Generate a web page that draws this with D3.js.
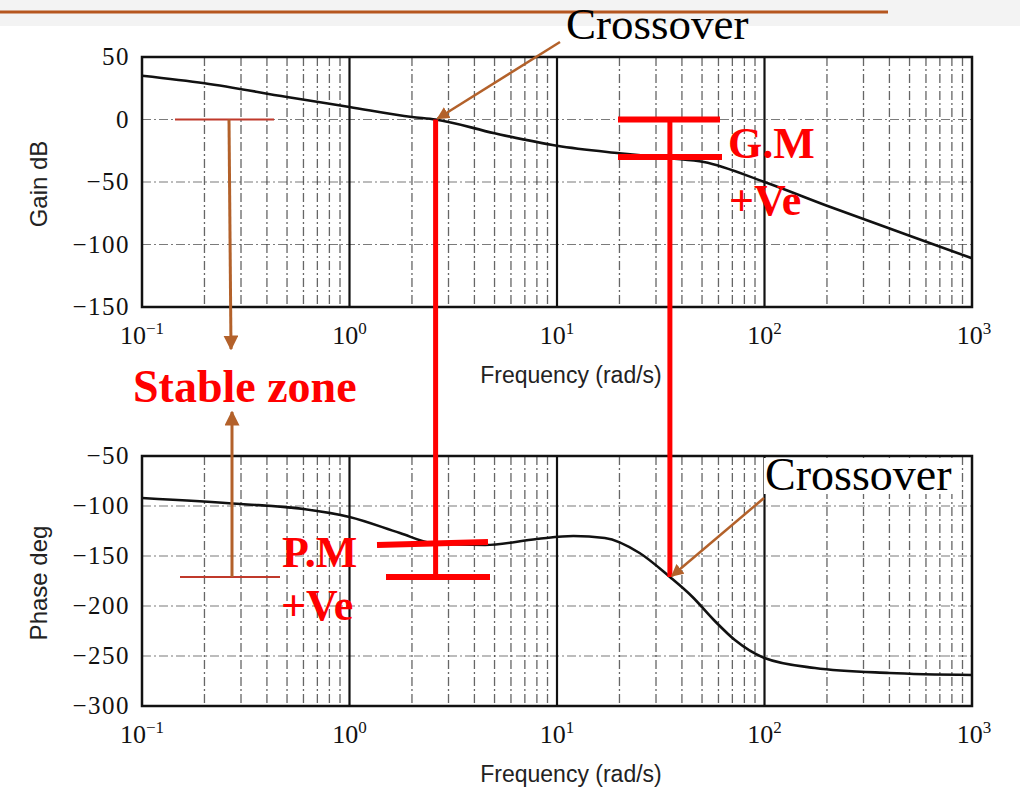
<!DOCTYPE html>
<html>
<head>
<meta charset="utf-8">
<script src="https://cdn.jsdelivr.net/npm/d3@7"></script>
<style>
  body { margin: 0; background: #fff; }
  svg { display: block; }
</style>
</head>
<body>
<svg id="chart" width="1020" height="788"></svg>
<script>
// Gain curve (rad/s, dB)
const gainFreq = [0.1, 0.2, 0.5, 1, 2, 2.6, 5, 10, 20, 35, 51, 100, 200, 500, 1000];
const gainDb = [35, 29, 18, 10, 2, 0, -11, -21, -27, -31, -34, -50, -69, -93, -111];

// Phase curve (rad/s, deg)
const phaseFreq = [0.1, 0.3, 0.6, 1, 1.75, 2.5, 4.5, 8, 12, 17, 25, 35, 45, 57, 72, 100, 175, 400, 1000];
const phaseDeg = [-92, -98, -103, -111, -127, -137, -139, -133, -130, -132, -147, -171, -191, -214, -234, -252, -262, -267, -269];

const gainTicks = [50, 0, -50, -100, -150];
const phaseTicks = [-50, -100, -150, -200, -250, -300];
const decadeExps = [-1, 0, 1, 2, 3];

// annotation points
const gainCrossFreq = 2.6;   // gain crossover
const phaseCrossFreq = 35;   // phase crossover
const pmTop = -137, pmBottom = -171;   // phase margin bars
const gmTop = 0, gmBottom = -30;       // gain margin bars

const svg = d3.select('#chart');
const brown = '#b3612a';
const darkRed = '#c0392b';
const red = '#ff0000';

svg.append('defs').append('marker')
  .attr('id', 'arrow')
  .attr('viewBox', '0 0 10 10')
  .attr('refX', 9).attr('refY', 5)
  .attr('markerWidth', 5).attr('markerHeight', 5)
  .attr('orient', 'auto-start-reverse')
  .append('path')
  .attr('d', 'M0,0 L10,5 L0,10 z')
  .attr('fill', brown);

// slide header band + rule
svg.append('rect').attr('x', 0).attr('y', 0).attr('width', 1020).attr('height', 26).attr('fill', '#f3f3f3');
svg.append('line').attr('x1', 0).attr('x2', 888).attr('y1', 12).attr('y2', 12)
  .attr('stroke', '#b5561f').attr('stroke-width', 3);

const x = d3.scaleLog().domain([0.1, 1000]).range([142, 972]);
const yGain = d3.scaleLinear().domain([-150, 50]).range([307, 57]);
const yPhase = d3.scaleLinear().domain([-300, -50]).range([706, 456]);

const drawPanel = (y, ticks, freqs, vals, title, labelY) => {
  const g = svg.append('g');
  const [y0, y1] = y.range();
  const [x0, x1] = x.range();

  // minor vertical grid (2..9 in each decade)
  const minors = [];
  for (let e = -1; e < 3; e += 1) {
    for (let k = 2; k <= 9; k += 1) minors.push(k * 10 ** e);
  }
  g.selectAll('.vminor').data(minors).join('line')
    .attr('x1', d => x(d)).attr('x2', d => x(d))
    .attr('y1', y1).attr('y2', y0)
    .attr('stroke', '#333').attr('stroke-width', 1.3)
    .attr('stroke-dasharray', '9,3,2,3').attr('opacity', 0.75);

  // horizontal grid
  g.selectAll('.hgrid').data(ticks).join('line')
    .attr('x1', x0).attr('x2', x1)
    .attr('y1', d => y(d)).attr('y2', d => y(d))
    .attr('stroke', '#444').attr('stroke-width', 1.2)
    .attr('stroke-dasharray', '9,3,2,3').attr('opacity', 0.7);

  // decade lines
  g.selectAll('.vmajor').data(decadeExps.slice(1, -1)).join('line')
    .attr('x1', d => x(10 ** d)).attr('x2', d => x(10 ** d))
    .attr('y1', y1).attr('y2', y0)
    .attr('stroke', '#111').attr('stroke-width', 2.2);

  // frame
  g.append('rect').attr('x', x0).attr('y', y1).attr('width', x1 - x0).attr('height', y0 - y1)
    .attr('fill', 'none').attr('stroke', '#111').attr('stroke-width', 2.5);

  // y tick labels
  g.selectAll('.ylab').data(ticks).join('text')
    .attr('x', 130).attr('y', d => y(d) + 8)
    .attr('text-anchor', 'end')
    .attr('font-family', 'Liberation Serif, serif').attr('font-size', 25)
    .attr('letter-spacing', 1.5)
    .attr('fill', '#111')
    .text(d => d3.format('')(d).replace('-', '\u2212'));

  // x tick labels 10^n
  const xl = g.selectAll('.xlab').data(decadeExps).join('text')
    .attr('x', d => x(10 ** d) + (d === 3 ? 2 : 0)).attr('y', labelY)
    .attr('text-anchor', 'middle')
    .attr('font-family', 'Liberation Serif, serif').attr('font-size', 26)
    .attr('fill', '#111');
  xl.append('tspan').text('10');
  xl.append('tspan').attr('dy', -10).attr('font-size', 17)
    .text(d => String(d).replace('-', '\u2212'));

  g.append('text')
    .attr('x', 571).attr('y', labelY + 39)
    .attr('text-anchor', 'middle')
    .attr('font-family', 'Liberation Sans, sans-serif').attr('font-size', 23)
    .attr('fill', '#222')
    .text('Frequency (rad/s)');

  g.append('text')
    .attr('transform', `translate(47,${(y0 + y1) / 2 + 2}) rotate(-90)`)
    .attr('text-anchor', 'middle')
    .attr('font-family', 'Liberation Sans, sans-serif').attr('font-size', 24)
    .attr('fill', '#222')
    .text(title);

  const line = d3.line().x(d => x(d[0])).y(d => y(d[1])).curve(d3.curveMonotoneX);
  g.append('path')
    .datum(freqs.map((f, i) => [f, vals[i]]))
    .attr('d', line)
    .attr('fill', 'none').attr('stroke', '#111').attr('stroke-width', 2.6);
};

drawPanel(yGain, gainTicks, gainFreq, gainDb, 'Gain dB', 344);
drawPanel(yPhase, phaseTicks, phaseFreq, phaseDeg, 'Phase deg', 743);

// ---- annotations ----
const ann = svg.append('g');
const xg = x(gainCrossFreq);
const xp = x(phaseCrossFreq);

// stable zone marks
ann.append('line').attr('x1', 175).attr('x2', 274).attr('y1', yGain(0)).attr('y2', yGain(0))
  .attr('stroke', darkRed).attr('stroke-width', 2);
ann.append('line').attr('x1', 229).attr('x2', 231).attr('y1', yGain(0)).attr('y2', 349)
  .attr('stroke', brown).attr('stroke-width', 3).attr('marker-end', 'url(#arrow)');
ann.append('line').attr('x1', 180).attr('x2', 280).attr('y1', yPhase(pmBottom)).attr('y2', yPhase(pmBottom))
  .attr('stroke', darkRed).attr('stroke-width', 2);
ann.append('line').attr('x1', 232).attr('x2', 232).attr('y1', yPhase(pmBottom)).attr('y2', 412)
  .attr('stroke', brown).attr('stroke-width', 3).attr('marker-end', 'url(#arrow)');
ann.append('text').attr('x', 133).attr('y', 402)
  .attr('font-family', 'Liberation Serif, serif').attr('font-weight', 'bold').attr('font-size', 46)
  .attr('fill', red).text('Stable zone');

// phase margin
ann.append('line').attr('x1', xg).attr('x2', xg).attr('y1', yGain(0)).attr('y2', yPhase(pmBottom))
  .attr('stroke', red).attr('stroke-width', 5);
ann.append('line').attr('x1', 377).attr('x2', 488).attr('y1', yPhase(pmTop) + 2).attr('y2', yPhase(pmTop) - 1)
  .attr('stroke', red).attr('stroke-width', 6);
ann.append('line').attr('x1', 386).attr('x2', 490).attr('y1', yPhase(pmBottom)).attr('y2', yPhase(pmBottom))
  .attr('stroke', red).attr('stroke-width', 6);
ann.append('text').attr('x', 282).attr('y', 567)
  .attr('font-family', 'Liberation Serif, serif').attr('font-weight', 'bold').attr('font-size', 44)
  .attr('fill', red).text('P.M');
ann.append('text').attr('x', 281).attr('y', 620)
  .attr('font-family', 'Liberation Serif, serif').attr('font-weight', 'bold').attr('font-size', 44)
  .attr('fill', red).text('+Ve');

// gain margin
ann.append('line').attr('x1', xp).attr('x2', xp).attr('y1', yGain(gmTop)).attr('y2', yPhase(pmBottom))
  .attr('stroke', red).attr('stroke-width', 5);
ann.append('line').attr('x1', 618).attr('x2', 720).attr('y1', yGain(gmTop)).attr('y2', yGain(gmTop))
  .attr('stroke', red).attr('stroke-width', 6);
ann.append('line').attr('x1', 618).attr('x2', 722).attr('y1', yGain(gmBottom)).attr('y2', yGain(gmBottom))
  .attr('stroke', red).attr('stroke-width', 6);
ann.append('text').attr('x', 728).attr('y', 158)
  .attr('font-family', 'Liberation Serif, serif').attr('font-weight', 'bold').attr('font-size', 44)
  .attr('fill', red).text('G.M');
ann.append('text').attr('x', 729).attr('y', 215)
  .attr('font-family', 'Liberation Serif, serif').attr('font-weight', 'bold').attr('font-size', 44)
  .attr('fill', red).text('+Ve');

// crossover callouts
ann.append('line').attr('x1', 560).attr('y1', 42).attr('x2', xg + 2).attr('y2', yGain(0) - 1)
  .attr('stroke', brown).attr('stroke-width', 2.5).attr('marker-end', 'url(#arrow)');
ann.append('text').attr('x', 566).attr('y', 39)
  .attr('font-family', 'Liberation Serif, serif').attr('font-size', 45)
  .attr('fill', '#000').text('Crossover');

ann.append('line').attr('x1', 764).attr('y1', 498).attr('x2', xp + 2).attr('y2', yPhase(-171) - 1)
  .attr('stroke', brown).attr('stroke-width', 2.5).attr('marker-end', 'url(#arrow)');
ann.append('rect').attr('x', 764).attr('y', 458).attr('width', 196).attr('height', 36).attr('fill', '#fff');
ann.append('text').attr('x', 765).attr('y', 490)
  .attr('font-family', 'Liberation Serif, serif').attr('font-size', 46)
  .attr('fill', '#000').text('Crossover');
</script>
</body>
</html>
